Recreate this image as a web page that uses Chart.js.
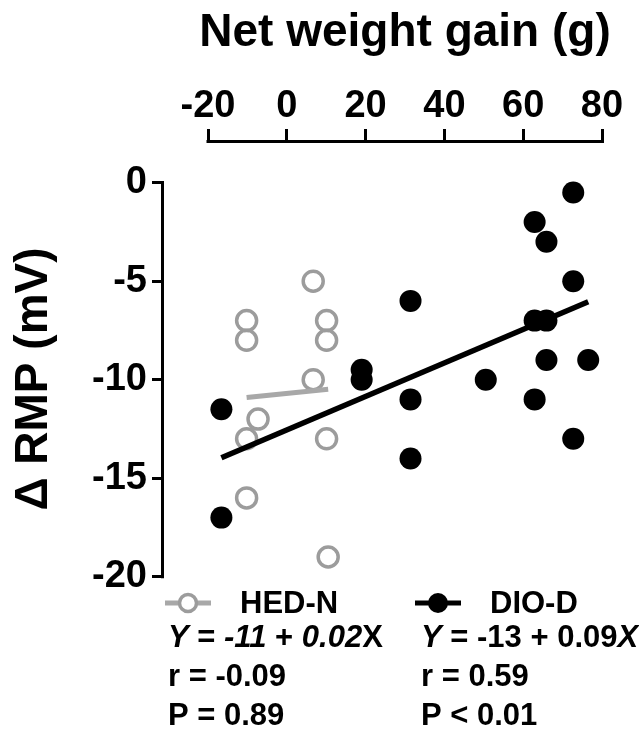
<!DOCTYPE html>
<html>
<head>
<meta charset="utf-8">
<title>Net weight gain vs ΔRMP</title>
<script src="https://cdn.jsdelivr.net/npm/chart.js@4/dist/chart.umd.min.js"></script>
<style>
  html, body { margin: 0; padding: 0; background: #fff; }
  canvas { display: block; }
</style>
</head>
<body>
<canvas id="c" width="639" height="740"></canvas>
<script>
// Groups and their measurements (net weight gain in g, change in RMP in mV)
const groupNames = ['HED-N', 'DIO-D'];
const hedX = [-10.2, -10.2, 6.7, 10.1, 10.1, 6.7, -7.3, -10.2, 10.1, -10.2, 10.5];
const hedY = [-7, -8, -5, -7, -8, -10, -12, -13, -13, -16, -19];
const dioX = [-16.6, -16.6, 19.0, 19.0, 72.7, 62.9, 65.9, 72.7, 31.4, 62.9, 65.9, 65.9, 76.5, 50.5, 31.4, 62.9, 72.7, 31.4];
const dioY = [-11.5, -17, -9.5, -10, -0.5, -2, -3, -5, -6, -7, -7, -9, -9, -10, -11, -11, -13, -14];

// Linear regression per group: Y = intercept + slope * X
const fitIntercepts = [-10.7, -12.55];
const fitSlopes = [0.02, 0.085];
const corrR = ['-0.09', '0.59'];
const pLabels = ['P = 0.89', 'P < 0.01'];

// Axis ticks
const xTicks = [-20, 0, 20, 40, 60, 80];
const yTicks = [0, -5, -10, -15, -20];
const xTitle = 'Net weight gain (g)';
const yTitle = '\u0394 RMP (mV)';

const FONT = '"Liberation Sans", Arial, Helvetica, sans-serif';
const GREY = '#9c9c9c';
const GREY_LINE = '#a8a8a8';

const toPoints = (xs, ys) => xs.map((x, i) => ({ x, y: ys[i] }));
const hedPts = toPoints(hedX, hedY);
const dioPts = toPoints(dioX, dioY);

function fitLine(g, xs) {
  const lo = Math.min(...xs), hi = Math.max(...xs);
  return [lo, hi].map(x => ({ x, y: fitIntercepts[g] + fitSlopes[g] * x }));
}

// Offset axis lines, top title and the regression legend
const decor = {
  id: 'decor',
  afterDraw(chart) {
    const { ctx, chartArea, scales: { x, y } } = chart;
    ctx.save();
    ctx.strokeStyle = '#000';
    ctx.lineWidth = 3;
    ctx.lineCap = 'butt';
    // x axis line (top)
    const xl = x.getPixelForValue(xTicks[0]), xr = x.getPixelForValue(xTicks[xTicks.length - 1]);
    const ya = chartArea.top - 1.5;
    ctx.beginPath(); ctx.moveTo(xl - 1.5, ya); ctx.lineTo(xr + 1.5, ya); ctx.stroke();
    // y axis line (left)
    const yt = y.getPixelForValue(yTicks[0]), yb = y.getPixelForValue(yTicks[yTicks.length - 1]);
    const xa = chartArea.left - 1.5;
    ctx.beginPath(); ctx.moveTo(xa, yt - 1.5); ctx.lineTo(xa, yb + 1.5); ctx.stroke();

    // title over the top axis
    ctx.fillStyle = '#000';
    ctx.font = 'bold 46px ' + FONT;
    ctx.textAlign = 'center';
    ctx.textBaseline = 'alphabetic';
    ctx.fillText(xTitle, (xl + xr) / 2, 46);

    // legend with equations
    const colX = [168, 421];
    const markX = [188, 438];
    const nameX = [240, 490];
    const rows = [613, 647, 686, 725];
    const size = 31;
    const eqItalic = [
      [true, false, true, false, true, false],
      [true, false, false, false, false, true]
    ];
    ctx.textAlign = 'left';
    for (let g = 0; g < 2; g++) {
      // marker: short line with a circle
      const col = g === 0 ? GREY_LINE : '#000';
      ctx.strokeStyle = col;
      ctx.lineWidth = 5;
      ctx.beginPath(); ctx.moveTo(markX[g] - 23, rows[0] - 10); ctx.lineTo(markX[g] + 23, rows[0] - 10); ctx.stroke();
      ctx.beginPath(); ctx.arc(markX[g], rows[0] - 10, g === 0 ? 8.5 : 10, 0, Math.PI * 2);
      if (g === 0) {
        ctx.fillStyle = '#fff'; ctx.fill();
        ctx.strokeStyle = GREY; ctx.lineWidth = 3.5; ctx.stroke();
      } else {
        ctx.fillStyle = '#000'; ctx.fill();
      }
      ctx.fillStyle = '#000';
      ctx.font = 'bold ' + size + 'px ' + FONT;
      ctx.fillText(groupNames[g], nameX[g], rows[0]);

      // equation text in runs of upright / italic
      const parts = ['Y', ' = ', fitIntercepts[g].toFixed(0), ' + ', fitSlopes[g].toFixed(2), 'X'];
      let cx = colX[g];
      parts.forEach((t, i) => {
        ctx.font = (eqItalic[g][i] ? 'italic ' : '') + 'bold ' + size + 'px ' + FONT;
        ctx.fillText(t, cx, rows[1]);
        cx += ctx.measureText(t).width;
      });
      ctx.font = 'bold ' + size + 'px ' + FONT;
      ctx.fillText('r = ' + corrR[g], colX[g], rows[2]);
      ctx.fillText(pLabels[g], colX[g], rows[3]);
    }
    ctx.restore();
  }
};

const tickFont = { family: FONT, size: 38, weight: 'bold' };

new Chart(document.getElementById('c'), {
  type: 'scatter',
  data: {
    datasets: [
      { label: groupNames[0] + ' fit', data: fitLine(0, hedX), showLine: true, borderColor: GREY_LINE,
        borderWidth: 5, pointRadius: 0, order: 1, clip: false },
      { label: groupNames[1] + ' fit', data: fitLine(1, dioX), showLine: true, borderColor: '#000',
        borderWidth: 5.5, pointRadius: 0, order: 0, clip: false },
      { label: groupNames[0], data: hedPts, pointRadius: 10, pointBorderWidth: 3.5,
        pointBackgroundColor: 'rgba(255,255,255,0)', pointBorderColor: GREY, order: 3, clip: false },
      { label: groupNames[1], data: dioPts, pointRadius: 11, pointBorderWidth: 0,
        pointBackgroundColor: '#000', pointBorderColor: '#000', order: 2, clip: false }
    ]
  },
  options: {
    responsive: false,
    devicePixelRatio: 1,
    animation: false,
    layout: { padding: { left: 0, right: 37, top: 0, bottom: 125 } },
    plugins: { legend: { display: false }, tooltip: { enabled: false } },
    scales: {
      x: {
        type: 'linear',
        position: 'top',
        min: -31.17,
        max: 80,
        afterBuildTicks: s => { s.ticks = xTicks.map(v => ({ value: v })); },
        afterFit: s => { s.height = 143; },
        border: { display: false },
        grid: { display: true, drawOnChartArea: false, drawTicks: true, tickLength: 14,
                tickWidth: 3, tickColor: '#000', lineWidth: 3, color: '#000' },
        ticks: { font: tickFont, color: '#000', padding: 0, autoSkip: false, maxRotation: 0 }
      },
      y: {
        type: 'linear',
        position: 'left',
        min: -21.944,
        max: 2.015,
        afterBuildTicks: s => { s.ticks = yTicks.map(v => ({ value: v })); },
        afterFit: s => { s.width = 164; },
        border: { display: false },
        grid: { display: true, drawOnChartArea: false, drawTicks: true, tickLength: 12,
                tickWidth: 3, tickColor: '#000', lineWidth: 3, color: '#000' },
        ticks: { font: tickFont, color: '#000', padding: 5, autoSkip: false },
        title: { display: true, text: yTitle, color: '#000',
                 font: { family: FONT, size: 46, weight: 'bold' }, padding: { top: 7, bottom: 0 } }
      }
    }
  },
  plugins: [decor]
});
</script>
</body>
</html>
